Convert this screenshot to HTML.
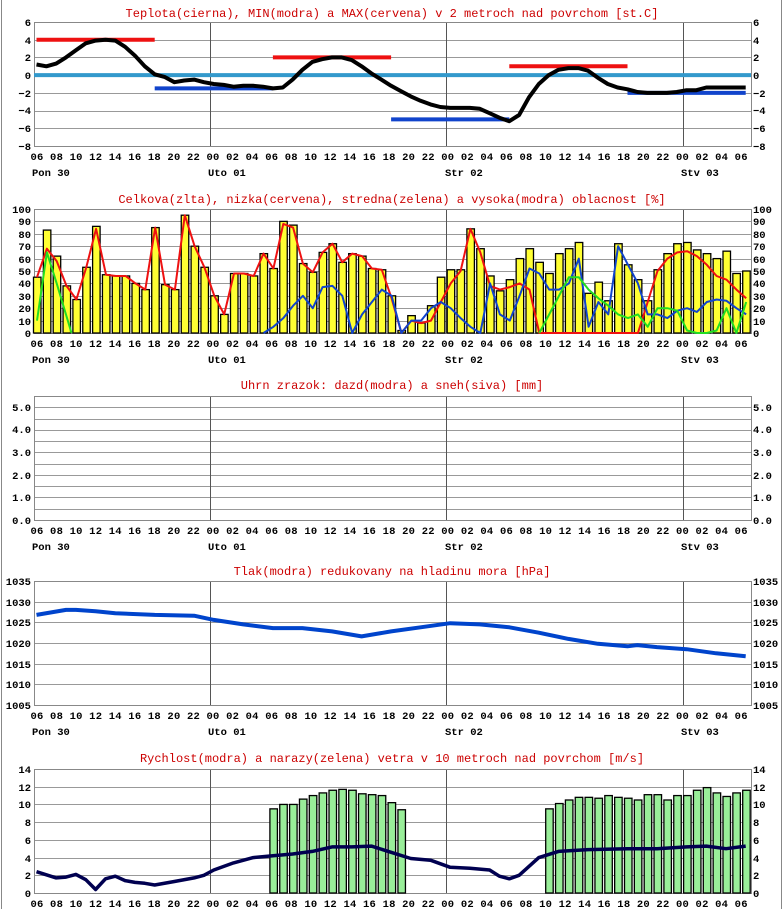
<!DOCTYPE html>
<html><head><meta charset="utf-8">
<style>
html,body{margin:0;padding:0;background:#fff;}
svg{display:block;}
.t{font-family:"Liberation Mono",monospace;font-size:12px;fill:#cc0000;}
.a{font-family:"Liberation Mono",monospace;font-size:10.5px;fill:#000;font-weight:bold;}
</style></head><body>
<svg id="s" width="784" height="909" xmlns="http://www.w3.org/2000/svg">
<rect x="0" y="0" width="784" height="909" fill="#fff"/>
<line x1="1.5" y1="0" x2="1.5" y2="909" stroke="#888" stroke-width="1"/>
<line x1="781.5" y1="0" x2="781.5" y2="909" stroke="#888" stroke-width="1"/>
<g id="g"></g>
<text class="t" x="392" y="17" text-anchor="middle">Teplota(cierna), MIN(modra) a MAX(cervena) v 2 metroch nad povrchom [st.C]</text>
<text class="t" x="392" y="203" text-anchor="middle">Celkova(zlta), nizka(cervena), stredna(zelena) a vysoka(modra) oblacnost [%]</text>
<text class="t" x="392" y="389" text-anchor="middle">Uhrn zrazok: dazd(modra) a sneh(siva) [mm]</text>
<text class="t" x="392" y="575" text-anchor="middle">Tlak(modra) redukovany na hladinu mora [hPa]</text>
<text class="t" x="392" y="762" text-anchor="middle">Rychlost(modra) a narazy(zelena) vetra v 10 metroch nad povrchom [m/s]</text>
<text class="a" x="30.5" y="160" textLength="717" lengthAdjust="spacing">06 08 10 12 14 16 18 20 22 00 02 04 06 08 10 12 14 16 18 20 22 00 02 04 06 08 10 12 14 16 18 20 22 00 02 04 06</text>
<text class="a" x="30.5" y="347" textLength="717" lengthAdjust="spacing">06 08 10 12 14 16 18 20 22 00 02 04 06 08 10 12 14 16 18 20 22 00 02 04 06 08 10 12 14 16 18 20 22 00 02 04 06</text>
<text class="a" x="30.5" y="534" textLength="717" lengthAdjust="spacing">06 08 10 12 14 16 18 20 22 00 02 04 06 08 10 12 14 16 18 20 22 00 02 04 06 08 10 12 14 16 18 20 22 00 02 04 06</text>
<text class="a" x="30.5" y="719" textLength="717" lengthAdjust="spacing">06 08 10 12 14 16 18 20 22 00 02 04 06 08 10 12 14 16 18 20 22 00 02 04 06 08 10 12 14 16 18 20 22 00 02 04 06</text>
<text class="a" x="30.5" y="907" textLength="717" lengthAdjust="spacing">06 08 10 12 14 16 18 20 22 00 02 04 06 08 10 12 14 16 18 20 22 00 02 04 06 08 10 12 14 16 18 20 22 00 02 04 06</text>
<g class="a">
<text x="32" y="176">Pon 30</text><text x="208" y="176">Uto 01</text><text x="445" y="176">Str 02</text><text x="681" y="176">Stv 03</text>
<text x="32" y="363">Pon 30</text><text x="208" y="363">Uto 01</text><text x="445" y="363">Str 02</text><text x="681" y="363">Stv 03</text>
<text x="32" y="550">Pon 30</text><text x="208" y="550">Uto 01</text><text x="445" y="550">Str 02</text><text x="681" y="550">Stv 03</text>
<text x="32" y="735">Pon 30</text><text x="208" y="735">Uto 01</text><text x="445" y="735">Str 02</text><text x="681" y="735">Stv 03</text>
</g>
<g class="a" text-anchor="end">
<text x="31" y="26">6</text><text x="31" y="44">4</text><text x="31" y="61">2</text><text x="31" y="79">0</text><text x="31" y="97">−2</text><text x="31" y="114">−4</text><text x="31" y="132">−6</text><text x="31" y="150">−8</text>
<text x="31" y="213">100</text><text x="31" y="225">90</text><text x="31" y="238">80</text><text x="31" y="250">70</text><text x="31" y="263">60</text><text x="31" y="275">50</text><text x="31" y="287">40</text><text x="31" y="300">30</text><text x="31" y="312">20</text><text x="31" y="325">10</text><text x="31" y="337">0</text>
<text x="31" y="411">5.0</text><text x="31" y="433">4.0</text><text x="31" y="456">3.0</text><text x="31" y="479">2.0</text><text x="31" y="501">1.0</text><text x="31" y="524">0.0</text>
<text x="31" y="585">1035</text><text x="31" y="606">1030</text><text x="31" y="626">1025</text><text x="31" y="647">1020</text><text x="31" y="668">1015</text><text x="31" y="688">1010</text><text x="31" y="709">1005</text>
<text x="31" y="773">14</text><text x="31" y="791">12</text><text x="31" y="808">10</text><text x="31" y="826">8</text><text x="31" y="844">6</text><text x="31" y="862">4</text><text x="31" y="879">2</text><text x="31" y="897">0</text>
</g>
<g class="a">
<text x="753" y="26">6</text><text x="753" y="44">4</text><text x="753" y="61">2</text><text x="753" y="79">0</text><text x="753" y="97">−2</text><text x="753" y="114">−4</text><text x="753" y="132">−6</text><text x="753" y="150">−8</text>
<text x="753" y="213">100</text><text x="753" y="225">90</text><text x="753" y="238">80</text><text x="753" y="250">70</text><text x="753" y="263">60</text><text x="753" y="275">50</text><text x="753" y="287">40</text><text x="753" y="300">30</text><text x="753" y="312">20</text><text x="753" y="325">10</text><text x="753" y="337">0</text>
<text x="753" y="411">5.0</text><text x="753" y="433">4.0</text><text x="753" y="456">3.0</text><text x="753" y="479">2.0</text><text x="753" y="501">1.0</text><text x="753" y="524">0.0</text>
<text x="753" y="585">1035</text><text x="753" y="606">1030</text><text x="753" y="626">1025</text><text x="753" y="647">1020</text><text x="753" y="668">1015</text><text x="753" y="688">1010</text><text x="753" y="709">1005</text>
<text x="753" y="773">14</text><text x="753" y="791">12</text><text x="753" y="808">10</text><text x="753" y="826">8</text><text x="753" y="844">6</text><text x="753" y="862">4</text><text x="753" y="879">2</text><text x="753" y="897">0</text>
</g>
</svg>
<script>
(function(){
var NS="http://www.w3.org/2000/svg",g=document.getElementById("g");
function el(n,a){var e=document.createElementNS(NS,n);for(var k in a)e.setAttribute(k,a[k]);g.appendChild(e);return e;}
function X(h){return 32.5+h*9.85;}
var L=34,R=751;
function panel(T,n){
  var H=124;
  for(var i=1;i<n;i++){var y=Math.round(T+H*i/n)+0.5;el("line",{x1:L,x2:R,y1:y,y2:y,stroke:"#999","stroke-width":1});}
  [18,42,66].forEach(function(h){var x=Math.round(X(h))+0.5;el("line",{x1:x,x2:x,y1:T,y2:T+H,stroke:"#555","stroke-width":1});});
  el("rect",{x:L+0.5,y:T+0.5,width:R-L,height:H,fill:"none",stroke:"#888","stroke-width":1});
}
function line(T,vmin,vmax,arr,col,w,off){
  var pts=[];arr.forEach(function(p){var x=X(p[0])+(off||4.5),y=T+124-(p[1]-vmin)/(vmax-vmin)*124;pts.push(x.toFixed(1)+","+y.toFixed(1));});
  el("polyline",{points:pts.join(" "),fill:"none",stroke:col,"stroke-width":w,"stroke-linejoin":"round"});
}
function seq(a){return a.map(function(v,i){return [i,v];});}
var T1=22;panel(T1,7);
function y1(v){return T1+124-(v+8)/14*124;}
el("line",{x1:L,x2:R,y1:y1(0),y2:y1(0),stroke:"#3399cc","stroke-width":4});
[[0,12,4],[24,36,2],[48,60,1]].forEach(function(m){el("line",{x1:X(m[0])+4,x2:X(m[1])+4,y1:y1(m[2]),y2:y1(m[2]),stroke:"#ee1111","stroke-width":4});});
[[12,24,-1.5],[36,48,-5],[60,72,-2]].forEach(function(m){el("line",{x1:X(m[0])+4,x2:X(m[1])+4,y1:y1(m[2]),y2:y1(m[2]),stroke:"#1144cc","stroke-width":4});});
var tmp=[1.2,1.0,1.3,2,2.8,3.6,3.9,4.0,3.9,3.2,2.2,1,0.1,-0.2,-0.8,-0.6,-0.5,-0.8,-1,-1.1,-1.3,-1.2,-1.2,-1.3,-1.5,-1.4,-0.5,0.6,1.5,1.8,2.0,2.0,1.7,1.0,0.2,-0.5,-1.2,-1.8,-2.4,-2.9,-3.3,-3.6,-3.7,-3.7,-3.7,-3.8,-4.3,-4.8,-5.2,-4.5,-2.5,-1,0,0.6,0.8,0.8,0.5,-0.3,-1,-1.4,-1.6,-1.9,-2.0,-2,-2,-1.9,-1.7,-1.7,-1.4,-1.4,-1.4,-1.4,-1.4];
line(T1,-8,6,seq(tmp),"#000",4,4);
var T2=209;panel(T2,10);
var tot=[45,83,62,38,27,53,86,47,46,46,40,35,85,39,35,95,70,53,30,15,48,48,46,64,52,90,87,56,49,65,72,57,64,62,52,51,
30,2,14,8,22,45,51,51,84,68,46,34,43,60,68,57,48,64,68,73,32,41,26,72,55,43,26,51,64,72,73,67,64,60,66,48,50];
tot.forEach(function(v,i){if(v<=0)return;var h=v/100*124;el("rect",{x:X(i)+1,y:T2+124-h,width:7.5,height:h,fill:"#ffff33",stroke:"#000","stroke-width":1.3});});
var low=tot.slice();
low[1]=68;low[2]=58;low[6]=84;low[25]=88;low[26]=85;
var lt=[28,0,10,8,10,25,40,50,84,65,38,35,37,40,35,0,0,0,0,0,0,0,0,0,0,0,25,50,60,65,66,62,55,46,43,35,28];
for(var i=36;i<=72;i++)low[i]=lt[i-36];
line(T2,0,100,seq(low),"#ee1111",2);
var hv={23:0,24:5,25:12,26:22,27:30,28:20,29:37,30:38,31:30,32:0,33:15,34:25,35:35,36:30,37:0,38:10,39:10,40:20,41:25,42:20,43:12,44:5,45:0,46:40,47:15,48:10,49:30,50:52,51:48,52:35,53:35,54:40,55:60,56:5,57:25,58:15,59:70,60:55,61:40,62:15,63:15,64:12,65:18,66:20,67:17,68:25,69:27,70:26,71:20,72:15};
var ha=[];for(var k in hv)ha.push([+k,hv[k]]);ha.sort(function(a,b){return a[0]-b[0];});
line(T2,0,100,ha,"#1144cc",2);
line(T2,0,100,[[0,10],[1,65],[2,40],[3.5,0]],"#22dd22",2);
var gv=[[51,0],[52,15],[53,30],[54,45],[55,45],[56,35],[57,28],[58,22],[59,15],[60,12],[61,15],[62,5],[63,20],[64,20],[65,18],[66,2],[67,0],[68,0],[69,2],[70,20],[71,0],[72,25]];
line(T2,0,100,gv,"#22dd22",2);
panel(396,11);
var T4=581;panel(T4,6);
var pr=[[0,1026.8],[3,1028],[4,1028],[6,1027.7],[8,1027.2],[12,1026.8],[16,1026.6],[18,1025.6],[21,1024.5],[24,1023.6],[27,1023.6],[30,1022.8],[33,1021.6],[36,1022.8],[39,1023.8],[42,1024.8],[45,1024.5],[48,1023.8],[51,1022.5],[54,1021],[57,1019.8],[60,1019.2],[61,1019.5],[63,1019],[66,1018.5],[69,1017.5],[72,1016.8]];
line(T4,1005,1035,pr,"#0044cc",4,4);
var T5=769;panel(T5,7);
var g1=[9.5,10,10,10.6,11,11.3,11.6,11.7,11.6,11.2,11.1,11,10.2,9.4];
var g2=[9.5,10.1,10.5,10.8,10.8,10.7,11,10.8,10.7,10.5,11.1,11.1,10.5,11,11,11.6,11.9,11.3,10.9,11.3,11.6];
function gb(h,v){var hh=v/14*124;el("rect",{x:X(h)+1,y:T5+124-hh,width:7.5,height:hh,fill:"#99ee99",stroke:"#000","stroke-width":1.3});}
g1.forEach(function(v,i){gb(24+i,v);});g2.forEach(function(v,i){gb(52+i,v);});
var ws=[[0,2.4],[2,1.7],[3,1.8],[4,2.1],[5,1.5],[6,0.4],[7,1.6],[8,1.9],[9,1.4],[10,1.2],[11,1.1],[12,0.9],[14,1.3],[16,1.7],[17,2.0],[18,2.6],[20,3.4],[22,4.0],[24,4.2],[26,4.4],[28,4.7],[30,5.2],[32,5.2],[34,5.3],[36,4.6],[38,3.9],[40,3.7],[42,2.9],[44,2.8],[46,2.6],[47,1.9],[48,1.6],[49,2.0],[51,4.0],[53,4.7],[56,4.9],[60,5.0],[63,5.0],[66,5.2],[68,5.3],[70,5.0],[72,5.3]];
line(T5,0,14,ws,"#000050",3.5,4);
})();
</script>
</body></html>
